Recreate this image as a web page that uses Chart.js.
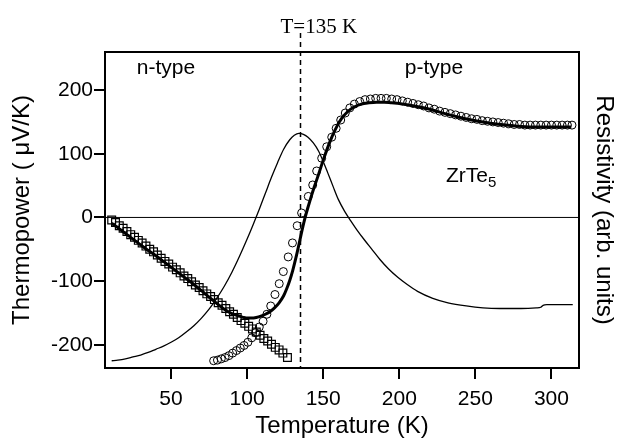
<!DOCTYPE html>
<html>
<head>
<meta charset="utf-8">
<script src="https://cdn.jsdelivr.net/npm/chart.js"></script>
<style>
  body { margin: 0; background: #fff; }
</style>
</head>
<body>
<canvas id="chart" width="618" height="441"></canvas>
<script>
// axis ranges and ticks
const xMin = 6.6, xMax = 318.1;
const yMin = -236.4, yMax = 259.8;
const xTicks = [50, 100, 150, 200, 250, 300];
const yTicks = [-200, -100, 0, 100, 200];
const transitionT = 135;

// thermopower, open squares (low T run)
const sqT = [11, 13.5, 16, 18.5, 21, 23.5, 26, 28.5, 31, 33.5, 36, 38.5, 41, 43.5, 46, 48.5,
             51, 53.5, 56, 58.5, 61, 63.5, 66, 68.5, 71, 73.5, 76, 78.5, 81, 83.5, 86, 88.5,
             91, 93.5, 96, 98.5, 101, 103.5, 106, 108.5, 111, 113.5, 116, 118.5, 121, 123.5, 126.5];
const sqS = [-4, -8, -13, -17, -22, -27, -31, -36, -40, -45, -50, -54, -59, -64, -69, -73,
             -78, -82, -87, -92, -96, -101, -106, -110, -115, -120, -124, -129, -134, -138, -143, -148,
             -152, -157, -162, -166, -171, -175, -180, -185, -190, -194, -199, -204, -208, -213, -220];

// thermopower, open circles (high T run)
const cirT = [78, 80.5, 83, 85.5, 88, 90.5, 93, 95.5, 98, 100.5, 103, 105.5, 108, 110.5, 113, 115.5,
              118.3, 121.1, 123.8, 127, 129.8, 132.9, 135.8, 140.2, 143.1, 145.7, 149, 152.3, 155.6, 158.5,
              161.5, 164.5, 167.5, 170.5, 174, 177.5, 181, 184.5, 188, 191.5, 195, 198.5, 202, 205.5,
              209, 212.5, 216, 219.5, 223, 226.5, 230, 233.5, 237, 240.5, 244, 247.5, 251, 254.5,
              258, 261.5, 265, 268.5, 272, 275.5, 279, 282.5, 286, 289.5, 293, 296.5, 300, 303.5,
              307, 310.5, 313.5];
const cirS = [-225, -224, -222, -220, -217, -213, -209, -205, -201, -196, -189, -181, -172, -163, -152, -139,
              -121, -104, -85, -62, -40, -13, 7, 33, 51, 73, 93, 111, 126, 140,
              153, 164, 172, 178, 182, 185, 186, 187, 187, 187, 186, 185, 183, 181,
              179, 177, 175, 172, 170, 167, 165, 163, 161, 159, 157, 155, 154, 152,
              151, 150, 149, 148, 147, 146, 146, 145, 145, 145, 145, 145, 145, 145,
              145, 145, 145];

// model curve (thick line)
const fitT = [11, 15, 20, 25, 30, 35, 40, 45, 50, 55, 60, 65, 70, 75, 80, 85, 90, 95, 100, 103, 106,
              109, 112, 115, 118, 121, 124, 126, 128, 130, 132, 134, 136, 138, 140, 142, 144, 147,
              150, 153, 156, 159, 162, 166, 170, 175, 180, 185, 190, 195, 200, 210, 220, 230, 240,
              250, 260, 270, 280, 290, 300, 313];
const fitS = [-9, -16, -25, -34, -43, -52, -60, -69, -78, -87, -96, -105, -115, -125, -135, -144, -151,
              -155, -158, -158, -157, -155, -152, -148, -142, -134, -123, -112, -99, -83, -64, -43,
              -21, -1, 16, 32, 47, 68, 90, 110, 128, 143, 155, 166, 173, 178, 180, 181, 181, 180,
              179, 175, 170, 163, 157, 152, 148, 145, 143, 142, 142, 142];

// resistivity (arb. units, thin line on right axis)
const resT = [11, 15, 20, 25, 30, 35, 40, 45, 50, 55, 60, 65, 70, 75, 80, 85, 90, 95, 100, 104, 108,
              112, 116, 120, 124, 128, 131, 134, 137, 140, 143.5, 147, 150, 153, 156.6, 160, 164, 168,
              172, 177, 182, 187.3, 193, 199, 205, 212, 222, 232, 244, 255, 266, 280, 290,
              293, 294.5, 297, 305, 314];
const resV = [-225, -224, -222, -219, -216, -212, -207, -202, -196, -189, -180, -170, -158, -144, -127,
              -108, -86, -61, -34, -11, 13, 38, 63, 86, 107, 122, 129, 132, 130.5, 126, 117, 104, 88,
              70, 48, 28, 10, -5, -19, -35, -50, -66, -81, -94, -105, -116, -127, -134, -139,
              -142, -143, -143, -142, -141, -138, -137, -137, -137];

// text annotations, in data units
const nLabel = { text: "n-type", x: 46.7, y: 226 };
const pLabel = { text: "p-type", x: 222.8, y: 226 };
const compLabel = { text: "ZrTe", sub: "5", x: 230.7, y: 55 };

const sans = "'Liberation Sans', Arial, sans-serif";
const serif = "'Liberation Serif', 'Times New Roman', serif";

const toPts = (xs, ys) => xs.map((t, i) => ({ x: t, y: ys[i] }));

const annotate = {
    id: "annotate",
    afterDatasetsDraw(chart) {
        const { ctx, chartArea } = chart;
        const x = chart.scales.x, y = chart.scales.y;
        const xp = Math.round(x.getPixelForValue(transitionT)) + 0.5;

        ctx.save();
        ctx.strokeStyle = "#000";
        ctx.lineWidth = 1.5;
        ctx.setLineDash([5, 4]);
        ctx.beginPath();
        ctx.moveTo(xp, 33);
        ctx.lineTo(xp, chartArea.bottom);
        ctx.stroke();
        ctx.setLineDash([]);

        ctx.fillStyle = "#000";
        ctx.textBaseline = "alphabetic";
        ctx.font = "21px " + serif;
        ctx.textAlign = "left";
        ctx.fillText("T=" + transitionT + " K", xp - 20, 33);

        ctx.font = "21px " + sans;
        ctx.textAlign = "center";
        ctx.fillText(nLabel.text, x.getPixelForValue(nLabel.x), y.getPixelForValue(nLabel.y));
        ctx.fillText(pLabel.text, x.getPixelForValue(pLabel.x), y.getPixelForValue(pLabel.y));

        ctx.textAlign = "left";
        const cx = x.getPixelForValue(compLabel.x), cy = y.getPixelForValue(compLabel.y);
        ctx.fillText(compLabel.text, cx, cy);
        const w = ctx.measureText(compLabel.text).width;
        ctx.font = "15px " + sans;
        ctx.fillText(compLabel.sub, cx + w, cy + 5);
        ctx.restore();
    }
};

const frameBorder = { display: true, width: 2, color: "#000" };
const tickGrid = { drawOnChartArea: false, drawTicks: true, tickLength: 11, lineWidth: 2, color: "#000" };

new Chart(document.getElementById("chart"), {
    type: "scatter",
    data: {
        datasets: [
            {
                label: "fit",
                data: toPts(fitT, fitS),
                showLine: true,
                borderColor: "#000",
                borderWidth: 3,
                pointRadius: 0,
                cubicInterpolationMode: "monotone"
            },
            {
                label: "squares",
                data: toPts(sqT, sqS),
                pointStyle: "rect",
                pointRadius: 5.5,
                pointBorderWidth: 1.2,
                pointBorderColor: "#000",
                pointBackgroundColor: "rgba(0,0,0,0)"
            },
            {
                label: "circles",
                data: toPts(cirT, cirS),
                pointStyle: "circle",
                pointRadius: 4,
                pointBorderWidth: 1,
                pointBorderColor: "#000",
                pointBackgroundColor: "rgba(0,0,0,0)"
            },
            {
                label: "resistivity",
                data: toPts(resT, resV),
                yAxisID: "yR",
                showLine: true,
                borderColor: "#000",
                borderWidth: 1.3,
                pointRadius: 0,
                cubicInterpolationMode: "monotone"
            },
            {
                label: "zero",
                data: [{ x: xMin, y: 0 }, { x: xMax, y: 0 }],
                showLine: true,
                borderColor: "#000",
                borderWidth: 1,
                pointRadius: 0
            }
        ]
    },
    options: {
        responsive: false,
        devicePixelRatio: 1,
        animation: false,
        layout: { padding: 0 },
        plugins: {
            legend: { display: false },
            tooltip: { enabled: false }
        },
        scales: {
            x: {
                type: "linear",
                position: "bottom",
                min: xMin,
                max: xMax,
                afterBuildTicks: s => { s.ticks = xTicks.map(v => ({ value: v })); },
                afterFit: s => { s.height = 73; },
                grid: tickGrid,
                border: frameBorder,
                ticks: { color: "#000", font: { family: sans, size: 21 }, padding: 8, maxRotation: 0 },
                title: {
                    display: true,
                    text: "Temperature (K)",
                    color: "#000",
                    font: { family: sans, size: 24 },
                    padding: { top: 0, bottom: 0 }
                }
            },
            xTop: {
                type: "linear",
                position: "top",
                min: xMin,
                max: xMax,
                afterFit: s => { s.height = 52; },
                grid: { display: false },
                border: frameBorder,
                ticks: { display: false }
            },
            y: {
                type: "linear",
                position: "left",
                min: yMin,
                max: yMax,
                afterBuildTicks: s => { s.ticks = yTicks.map(v => ({ value: v })); },
                afterFit: s => { s.width = 105; },
                grid: tickGrid,
                border: frameBorder,
                ticks: { color: "#000", font: { family: sans, size: 21 }, padding: 1 },
                title: {
                    display: true,
                    text: "Thermopower ( \u03BCV/K)",
                    color: "#000",
                    font: { family: sans, size: 24 },
                    padding: { top: 8, bottom: 0 }
                }
            },
            yR: {
                type: "linear",
                position: "right",
                min: yMin,
                max: yMax,
                afterFit: s => { s.width = 39; },
                grid: { display: false },
                border: frameBorder,
                ticks: { display: false },
                title: {
                    display: true,
                    text: "Resistivity (arb. units)",
                    color: "#000",
                    font: { family: sans, size: 24 },
                    padding: { top: 0, bottom: 0 }
                }
            }
        }
    },
    plugins: [annotate]
});
</script>
</body>
</html>
